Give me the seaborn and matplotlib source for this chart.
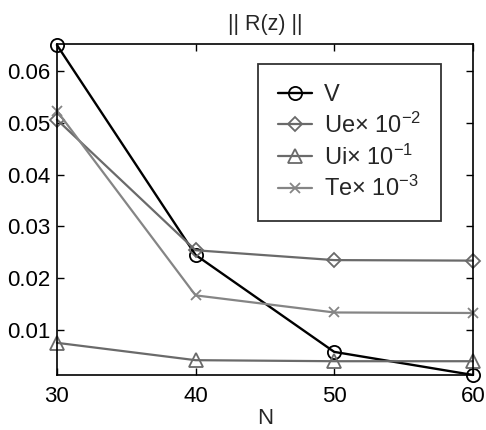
import matplotlib
matplotlib.use("Agg")
import matplotlib.pyplot as plt
import seaborn as sns
import pandas as pd

# Residual norms against grid size N
N = [30, 40, 50, 60]
V = [0.0650, 0.0245, 0.0058, 0.00135]
Ue = [0.0506, 0.0254, 0.0235, 0.0234]
Ui = [0.00755, 0.0042, 0.0040, 0.0040]
Te = [0.0523, 0.0167, 0.0134, 0.0133]

labels = ["V", r"Ue$\times$ 10$^{-2}$", r"Ui$\times$ 10$^{-1}$", r"Te$\times$ 10$^{-3}$"]
series = [V, Ue, Ui, Te]
markers = ["o", "D", "^", "x"]
colors = ["#000000", "#6a6a6a", "#6a6a6a", "#858585"]
msizes = [9.5, 7.5, 9.5, 7]
lwidths = [1.7, 1.6, 1.6, 1.6]

sns.set_theme(style="ticks")
plt.rcParams["font.family"] = ["Liberation Sans", "DejaVu Sans"]
plt.rcParams["mathtext.fontset"] = "custom"
plt.rcParams["mathtext.rm"] = "Liberation Sans"
plt.rcParams["mathtext.it"] = "Liberation Sans"

fig = plt.figure(figsize=(4.86, 4.30), dpi=100)
ax = fig.add_axes([0.117, 0.128, 0.856, 0.770])

for lab, vals, m, c, ms, lw in zip(labels, series, markers, colors, msizes, lwidths):
    df = pd.DataFrame({"N": N, "R": vals})
    sns.lineplot(data=df, x="N", y="R", ax=ax, marker=m, color=c,
                 markersize=ms, markerfacecolor="none",
                 markeredgecolor=c, markeredgewidth=1.3, linewidth=lw,
                 label=lab, clip_on=False)

ax.set_xlim(30, 60)
ax.set_ylim(0.00135, 0.0652)
ax.set_xticks([30, 40, 50, 60])
ax.set_yticks([0.01, 0.02, 0.03, 0.04, 0.05, 0.06])
ax.set_yticklabels(["0.01", "0.02", "0.03", "0.04", "0.05", "0.06"])
ax.tick_params(direction="in", length=5, width=1, labelsize=16, colors="black",
               top=True, right=True)
ax.tick_params(axis="y", pad=4.5)
ax.tick_params(axis="x", pad=8)
for s in ax.spines.values():
    s.set_visible(True)
    s.set_linewidth(1.2)
    s.set_color("black")

ax.set_xlabel("N", fontsize=16, labelpad=1)
ax.set_ylabel("")
ax.set_title("|| R(z) ||", fontsize=15.5, pad=10)

leg = ax.legend(loc="upper left", bbox_to_anchor=(0.483, 0.94), fontsize=17,
                frameon=True, fancybox=False, edgecolor="black",
                handlelength=1.45, handletextpad=0.5, labelspacing=0.28,
                borderpad=0.85, borderaxespad=0)
leg.get_frame().set_linewidth(1.3)

fig.savefig("out.png", dpi=100)
